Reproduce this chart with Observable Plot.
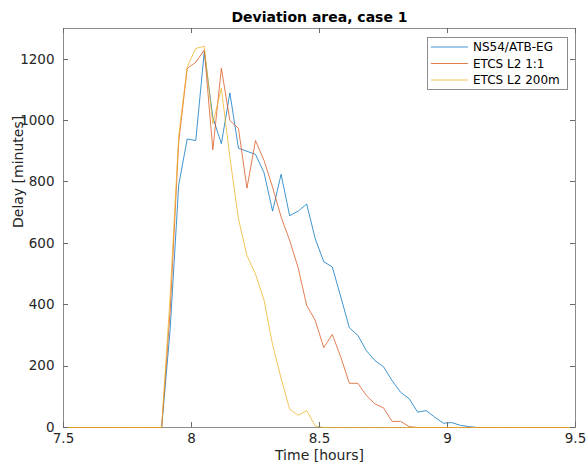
<!DOCTYPE html>
<html><head><meta charset="utf-8">
<script src="https://cdn.jsdelivr.net/npm/d3@7"></script>
<script src="https://cdn.jsdelivr.net/npm/@observablehq/plot@0.6"></script>
<style>body{margin:0;background:#fff} svg{display:block}</style>
</head><body><div id="chart"></div>
<script>
// time of each sample: minutes after 7:00
const timeMinutes = [31,33,35,37,39,41,43,45,47,49,51,53,55,57,59,61,63,65,67,69,71,73,75,77,79,81,83,85,87,89,91,93,95,97,99,101,103,105,107,109,111,113,115,117,119,121,123,125,127,129,131,133,135,137,139,141,143,145,147,149];
const seriesNames = ["NS54/ATB-EG", "ETCS L2 1:1", "ETCS L2 200m"];
const seriesColors = ["#0072BD", "#D95319", "#EDB120"];
const delayNS54 = [0,0,0,0,0,0,0,0,0,0,0,0,
  320,790,940,935,1225,1010,925,1090,910,900,890,830,705,825,690,705,728,615,540,523,425,325,300,250,218,198,153,115,94,50,55,34,14,16,7,3,
  0,0,0,0,0,0,0,0,0,0,0,0];
const delayL2 = [0,0,0,0,0,0,0,0,0,0,0,0,
  380,930,1170,1190,1230,905,1170,1000,975,780,935,870,783,686,610,520,398,349,260,303,229,144,144,104,77,64,20,20,3,
  0,0,0,0,0,0,0,0,0,0,0,0,0,0,0,0,0,0,0];
const delayL2_200 = [0,0,0,0,0,0,0,0,0,0,0,0,
  430,950,1175,1235,1242,990,1105,880,680,560,500,415,270,160,60,40,55,5,
  0,0,0,0,0,0,0,0,0,0,0,0,0,0,0,0,0,0,0,0,0,0,0,0,0,0,0,0,0,0];
const xTicks = [7.5, 8, 8.5, 9, 9.5];
const yTicks = [0, 200, 400, 600, 800, 1000, 1200];
const titleText = "Deviation area, case 1";
const xLabel = "Time [hours]";
const yLabel = "Delay [minutes]";

(function () {
const allSeries = [delayNS54, delayL2, delayL2_200];
const data = [];
allSeries.forEach((vals, s) => timeMinutes.forEach((m, i) => data.push({series: seriesNames[s], t: 7 + m / 60, v: vals[i]})));

const W = 587, H = 468, mL = 63, mR = 12, mT = 28, mB = 41;
const tickLen = 5;
const axisGrey = "#8c8c8c";
const tickGrey = "#6a6a6a";
const fmt = d => String(d);
const plot = Plot.plot({
  width: W, height: H,
  marginLeft: mL, marginRight: mR, marginTop: mT, marginBottom: mB,
  style: {fontFamily: "DejaVu Sans", fontSize: "13.5px", color: "#262626", background: "#fff"},
  x: {domain: [7.5, 9.5], label: null},
  y: {domain: [0, 1300], label: null},
  color: {domain: seriesNames, range: seriesColors},
  marks: [
    Plot.frame({stroke: axisGrey}),
    Plot.axisX({anchor: "bottom", ticks: xTicks, tickSize: 0, tickPadding: 6, tickFormat: fmt, label: null}),
    Plot.axisY({anchor: "left", ticks: yTicks, tickSize: 0, tickPadding: 9, tickFormat: fmt, label: null}),
    Plot.lineY(data, {x: "t", y: "v", z: "series", stroke: "series", strokeWidth: 0.75}),
    Plot.text([titleText], {frameAnchor: "top", dy: -16, text: d => d, fontWeight: "bold", fontSize: 14, fill: "#000"}),
    Plot.text([xLabel], {frameAnchor: "bottom", dy: 32, text: d => d, fontSize: 14, fill: "#262626"}),
    Plot.text([yLabel], {frameAnchor: "left", dx: -45, rotate: -90, text: d => d, fontSize: 14, fill: "#262626"})
  ]
});
document.getElementById("chart").appendChild(plot);

const svg = d3.select(plot);
const sx = plot.scale("x"), sy = plot.scale("y");
// inward MATLAB-style ticks on all four sides, placed by Plot's scales
const tg = svg.append("g").attr("stroke", tickGrey).attr("stroke-width", 1);
const yTop = mT, yBottom = H - mB, xLeft = mL, xRight = W - mR;
xTicks.forEach(v => {
  const x = Math.round(sx.apply(v)) + 0.5;
  tg.append("line").attr("x1", x).attr("x2", x).attr("y1", yBottom).attr("y2", yBottom - tickLen);
  tg.append("line").attr("x1", x).attr("x2", x).attr("y1", yTop).attr("y2", yTop + tickLen);
});
yTicks.forEach(v => {
  const y = Math.round(sy.apply(v)) + 0.5;
  tg.append("line").attr("y1", y).attr("y2", y).attr("x1", xLeft).attr("x2", xLeft + tickLen);
  tg.append("line").attr("y1", y).attr("y2", y).attr("x1", xRight).attr("x2", xRight - tickLen);
});

// legend box (MATLAB style, inside the axes)
const lg = svg.append("g").attr("font-family", "DejaVu Sans").attr("font-size", 12).attr("text-anchor", "start");
lg.append("rect").attr("x", 427.5).attr("y", 37.5).attr("width", 140).attr("height", 52)
  .attr("fill", "#fff").attr("stroke", axisGrey);
seriesNames.forEach((name, i) => {
  const y = 47 + i * 16.5;
  lg.append("line").attr("x1", 431).attr("x2", 468).attr("y1", y).attr("y2", y)
    .attr("stroke", seriesColors[i]).attr("stroke-width", 0.75);
  lg.append("text").attr("x", 473).attr("y", y).attr("dy", "0.35em").attr("fill", "#000").attr("text-anchor", "start").text(name);
});
})();
</script>
</body></html>
